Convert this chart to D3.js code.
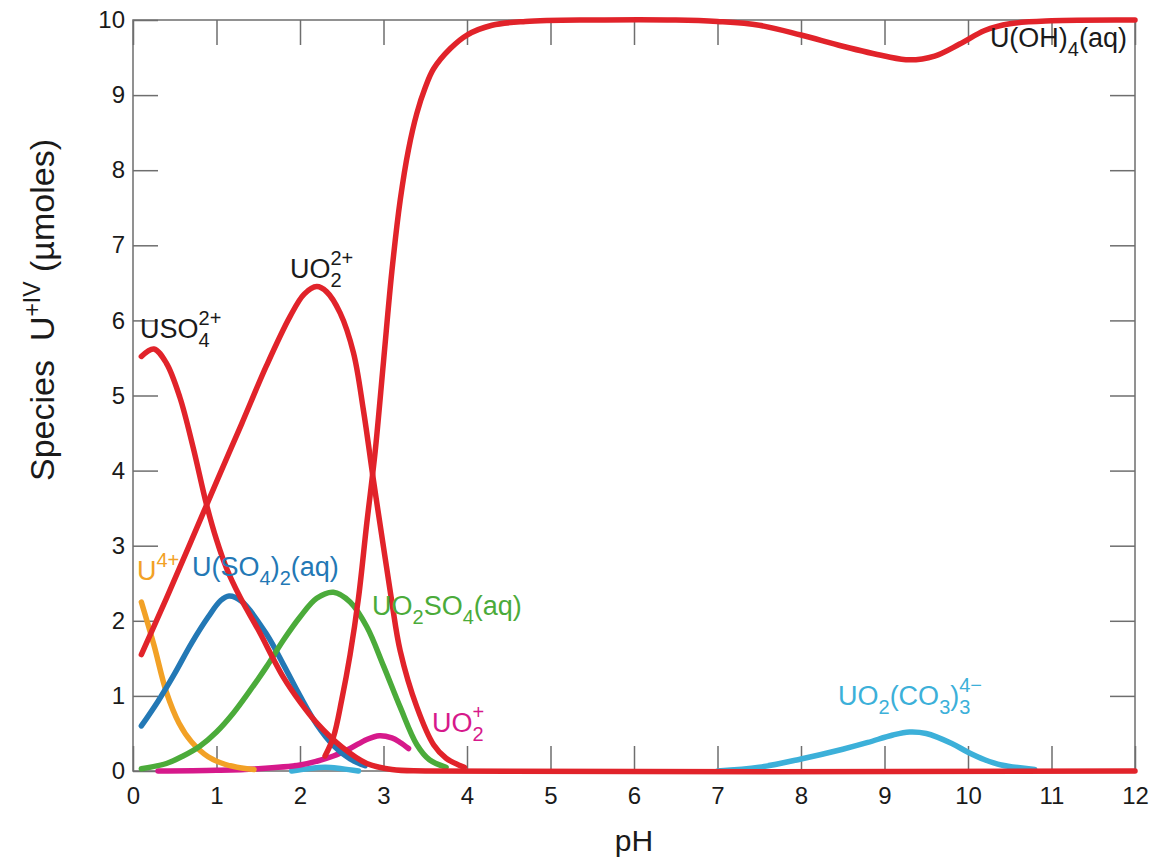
<!DOCTYPE html>
<html>
<head>
<meta charset="utf-8">
<script src="https://cdn.jsdelivr.net/npm/d3@7"></script>
<style>
  body { margin: 0; background: #fff; }
  svg { display: block; font-family: "Liberation Sans", Arial, sans-serif; }
</style>
</head>
<body>
<svg id="chart" width="1152" height="859"></svg>
<script>
// Uranium(IV) speciation vs pH — each species as [pH, µmoles] pairs
const USO4 = [[0.1,5.52],[0.25,5.62],[0.4,5.43],[0.56,4.98],[0.72,4.31],[0.88,3.55],[1.0,3.08],[1.12,2.7],[1.28,2.32],[1.5,1.88],[1.8,1.25],[2.0,0.92],[2.2,0.64],[2.5,0.32],[2.8,0.1],[3.1,0.02],[3.5,0.0],[12,0.0]];
const UO2_2plus = [[0.1,1.55],[0.4,2.3],[0.7,3.07],[1.0,3.85],[1.3,4.62],[1.6,5.4],[1.88,6.05],[2.05,6.35],[2.2,6.45],[2.32,6.38],[2.48,6.1],[2.64,5.57],[2.76,4.8],[2.88,3.87],[3.0,2.98],[3.1,2.25],[3.2,1.6],[3.4,0.85],[3.6,0.35],[3.75,0.17],[3.9,0.08],[3.97,0.05]];
const UOH4 = [[2.3,0.2],[2.4,0.45],[2.5,0.95],[2.6,1.55],[2.7,2.3],[2.8,3.3],[2.9,4.25],[3.0,5.45],[3.1,6.65],[3.2,7.6],[3.3,8.28],[3.4,8.76],[3.5,9.1],[3.6,9.35],[3.8,9.62],[4.0,9.8],[4.3,9.93],[4.7,9.98],[5.5,10.0],[6.5,10.0],[7.0,9.98],[7.5,9.93],[8.0,9.8],[8.5,9.65],[9.0,9.52],[9.3,9.47],[9.6,9.52],[9.9,9.68],[10.2,9.86],[10.5,9.95],[11.0,9.99],[12.0,10.0]];
const U4plus = [[0.1,2.25],[0.25,1.68],[0.4,1.05],[0.55,0.64],[0.7,0.39],[0.9,0.19],[1.1,0.09],[1.3,0.04],[1.45,0.02]];
const USO4_2 = [[0.1,0.6],[0.3,0.93],[0.5,1.3],[0.7,1.7],[0.9,2.05],[1.05,2.27],[1.15,2.33],[1.3,2.26],[1.6,1.82],[1.8,1.42],[2.0,1.0],[2.2,0.62],[2.4,0.34],[2.6,0.16],[2.78,0.07]];
const UO2SO4 = [[0.1,0.03],[0.4,0.1],[0.6,0.2],[0.8,0.33],[1.0,0.52],[1.2,0.77],[1.4,1.07],[1.6,1.39],[1.8,1.74],[2.0,2.05],[2.2,2.3],[2.4,2.38],[2.6,2.25],[2.8,1.92],[3.0,1.4],[3.2,0.85],[3.4,0.35],[3.55,0.15],[3.75,0.05]];
const UO2plus = [[0.3,0.0],[1.0,0.01],[1.5,0.03],[2.0,0.08],[2.2,0.13],[2.4,0.2],[2.6,0.3],[2.8,0.42],[2.95,0.47],[3.1,0.44],[3.2,0.38],[3.3,0.3]];
const minorSpecies = [[1.9,0.0],[2.1,0.03],[2.3,0.05],[2.5,0.03],[2.7,0.0]];
const UO2CO3_3 = [[7.0,0.0],[7.5,0.05],[8.0,0.16],[8.5,0.29],[8.8,0.38],[9.1,0.48],[9.3,0.52],[9.5,0.5],[9.8,0.37],[10.0,0.25],[10.2,0.15],[10.4,0.08],[10.8,0.02]];

const xTicks = [0,1,2,3,4,5,6,7,8,9,10,11,12];
const yTicks = [0,1,2,3,4,5,6,7,8,9,10];

const colors = {
  red: "#e1232a", orange: "#f2a126", blue: "#2378b5",
  green: "#4bab3a", magenta: "#d6198b", cyan: "#3cb0d9", text: "#1a1a1a"
};

const svg = d3.select("#chart");
const x = d3.scaleLinear().domain([0, 12]).range([133, 1135]);
const y = d3.scaleLinear().domain([0, 10]).range([771, 20]);

// frame
svg.append("rect")
  .attr("x", x(0)).attr("y", y(10))
  .attr("width", x(12) - x(0)).attr("height", y(0) - y(10))
  .attr("fill", "none").attr("stroke", "#6e6e6e").attr("stroke-width", 1.5);

function styleAxis(g) {
  g.select(".domain").remove();
  g.selectAll(".tick line").attr("stroke", "#6e6e6e").attr("stroke-width", 1.5);
  g.selectAll(".tick text").attr("fill", colors.text).style("font-size", "24px")
    .style("font-family", '"Liberation Sans", Arial, sans-serif');
}

svg.append("g").attr("transform", `translate(0,${y(0)})`)
  .call(d3.axisBottom(x).tickValues(xTicks).tickSize(-25).tickPadding(16).tickFormat(d3.format("d")))
  .call(styleAxis);
svg.append("g").attr("transform", `translate(0,${y(10)})`)
  .call(d3.axisTop(x).tickValues(xTicks).tickSize(-25).tickFormat(""))
  .call(styleAxis);
svg.append("g").attr("transform", `translate(${x(0)},0)`)
  .call(d3.axisLeft(y).tickValues(yTicks).tickSize(-25).tickPadding(8).tickFormat(d3.format("d")))
  .call(styleAxis);
svg.append("g").attr("transform", `translate(${x(12)},0)`)
  .call(d3.axisRight(y).tickValues(yTicks).tickSize(-25).tickFormat(""))
  .call(styleAxis);

// species curves
const line = d3.line().x(d => x(d[0])).y(d => y(Math.max(0, d[1])))
  .curve(d3.curveCatmullRom.alpha(0.5));
const series = [
  [minorSpecies, colors.cyan], [UO2CO3_3, colors.cyan],
  [UO2plus, colors.magenta], [U4plus, colors.orange],
  [USO4_2, colors.blue], [UO2SO4, colors.green],
  [USO4, colors.red], [UO2_2plus, colors.red], [UOH4, colors.red]
];
svg.append("g").selectAll("path").data(series).join("path")
  .attr("d", d => line(d[0]))
  .attr("fill", "none")
  .attr("stroke", d => d[1])
  .attr("stroke-width", 5.5)
  .attr("stroke-linecap", "round")
  .attr("stroke-linejoin", "round");

// chemical formula labels with stacked sub/superscripts
const MAIN = 27, SMALL = 20;
function chemLabel(px, py, parts, color, anchor) {
  const g = svg.append("g").attr("fill", color);
  let cx = 0;
  parts.forEach(p => {
    if (p.t) {
      const t = g.append("text").attr("x", cx).attr("y", 0).style("font-size", MAIN + "px").text(p.t);
      cx += t.node().getComputedTextLength();
    }
    let w = 0;
    if (p.sub) {
      const s = g.append("text").attr("x", cx).attr("y", 9).style("font-size", SMALL + "px").text(p.sub);
      w = Math.max(w, s.node().getComputedTextLength());
    }
    if (p.sup) {
      const s = g.append("text").attr("x", cx).attr("y", -13).style("font-size", SMALL + "px").text(p.sup);
      w = Math.max(w, s.node().getComputedTextLength());
    }
    cx += w;
  });
  const dx = anchor === "end" ? px - cx : px;
  g.attr("transform", `translate(${dx},${py})`);
}

chemLabel(140, 338, [{t: "USO", sub: "4", sup: "2+"}], colors.text);
chemLabel(290, 278, [{t: "UO", sub: "2", sup: "2+"}], colors.text);
chemLabel(1127, 47, [{t: "U(OH)", sub: "4"}, {t: "(aq)"}], colors.text, "end");
chemLabel(137, 580, [{t: "U", sup: "4+"}], colors.orange);
chemLabel(192, 576, [{t: "U(SO", sub: "4"}, {t: ")", sub: "2"}, {t: "(aq)"}], colors.blue);
chemLabel(372, 615, [{t: "UO", sub: "2"}, {t: "SO", sub: "4"}, {t: "(aq)"}], colors.green);
chemLabel(432, 732, [{t: "UO", sub: "2", sup: "+"}], colors.magenta);
chemLabel(838, 705, [{t: "UO", sub: "2"}, {t: "(CO", sub: "3"}, {t: ")", sub: "3", sup: "4\u2212"}], colors.cyan);

// axis titles
svg.append("text")
  .attr("x", (x(0) + x(12)) / 2).attr("y", 851)
  .attr("text-anchor", "middle").attr("fill", colors.text)
  .style("font-size", "30px").text("pH");

const yTitle = svg.append("text")
  .attr("transform", "translate(54,310) rotate(-90)")
  .attr("text-anchor", "middle").attr("fill", colors.text)
  .style("font-size", "34px");
yTitle.append("tspan").text("Species\u00a0\u00a0U");
yTitle.append("tspan").attr("dy", -14).style("font-size", "23px").text("+IV");
yTitle.append("tspan").attr("dy", 14).text(" (\u00b5moles)");
</script>
</body>
</html>
